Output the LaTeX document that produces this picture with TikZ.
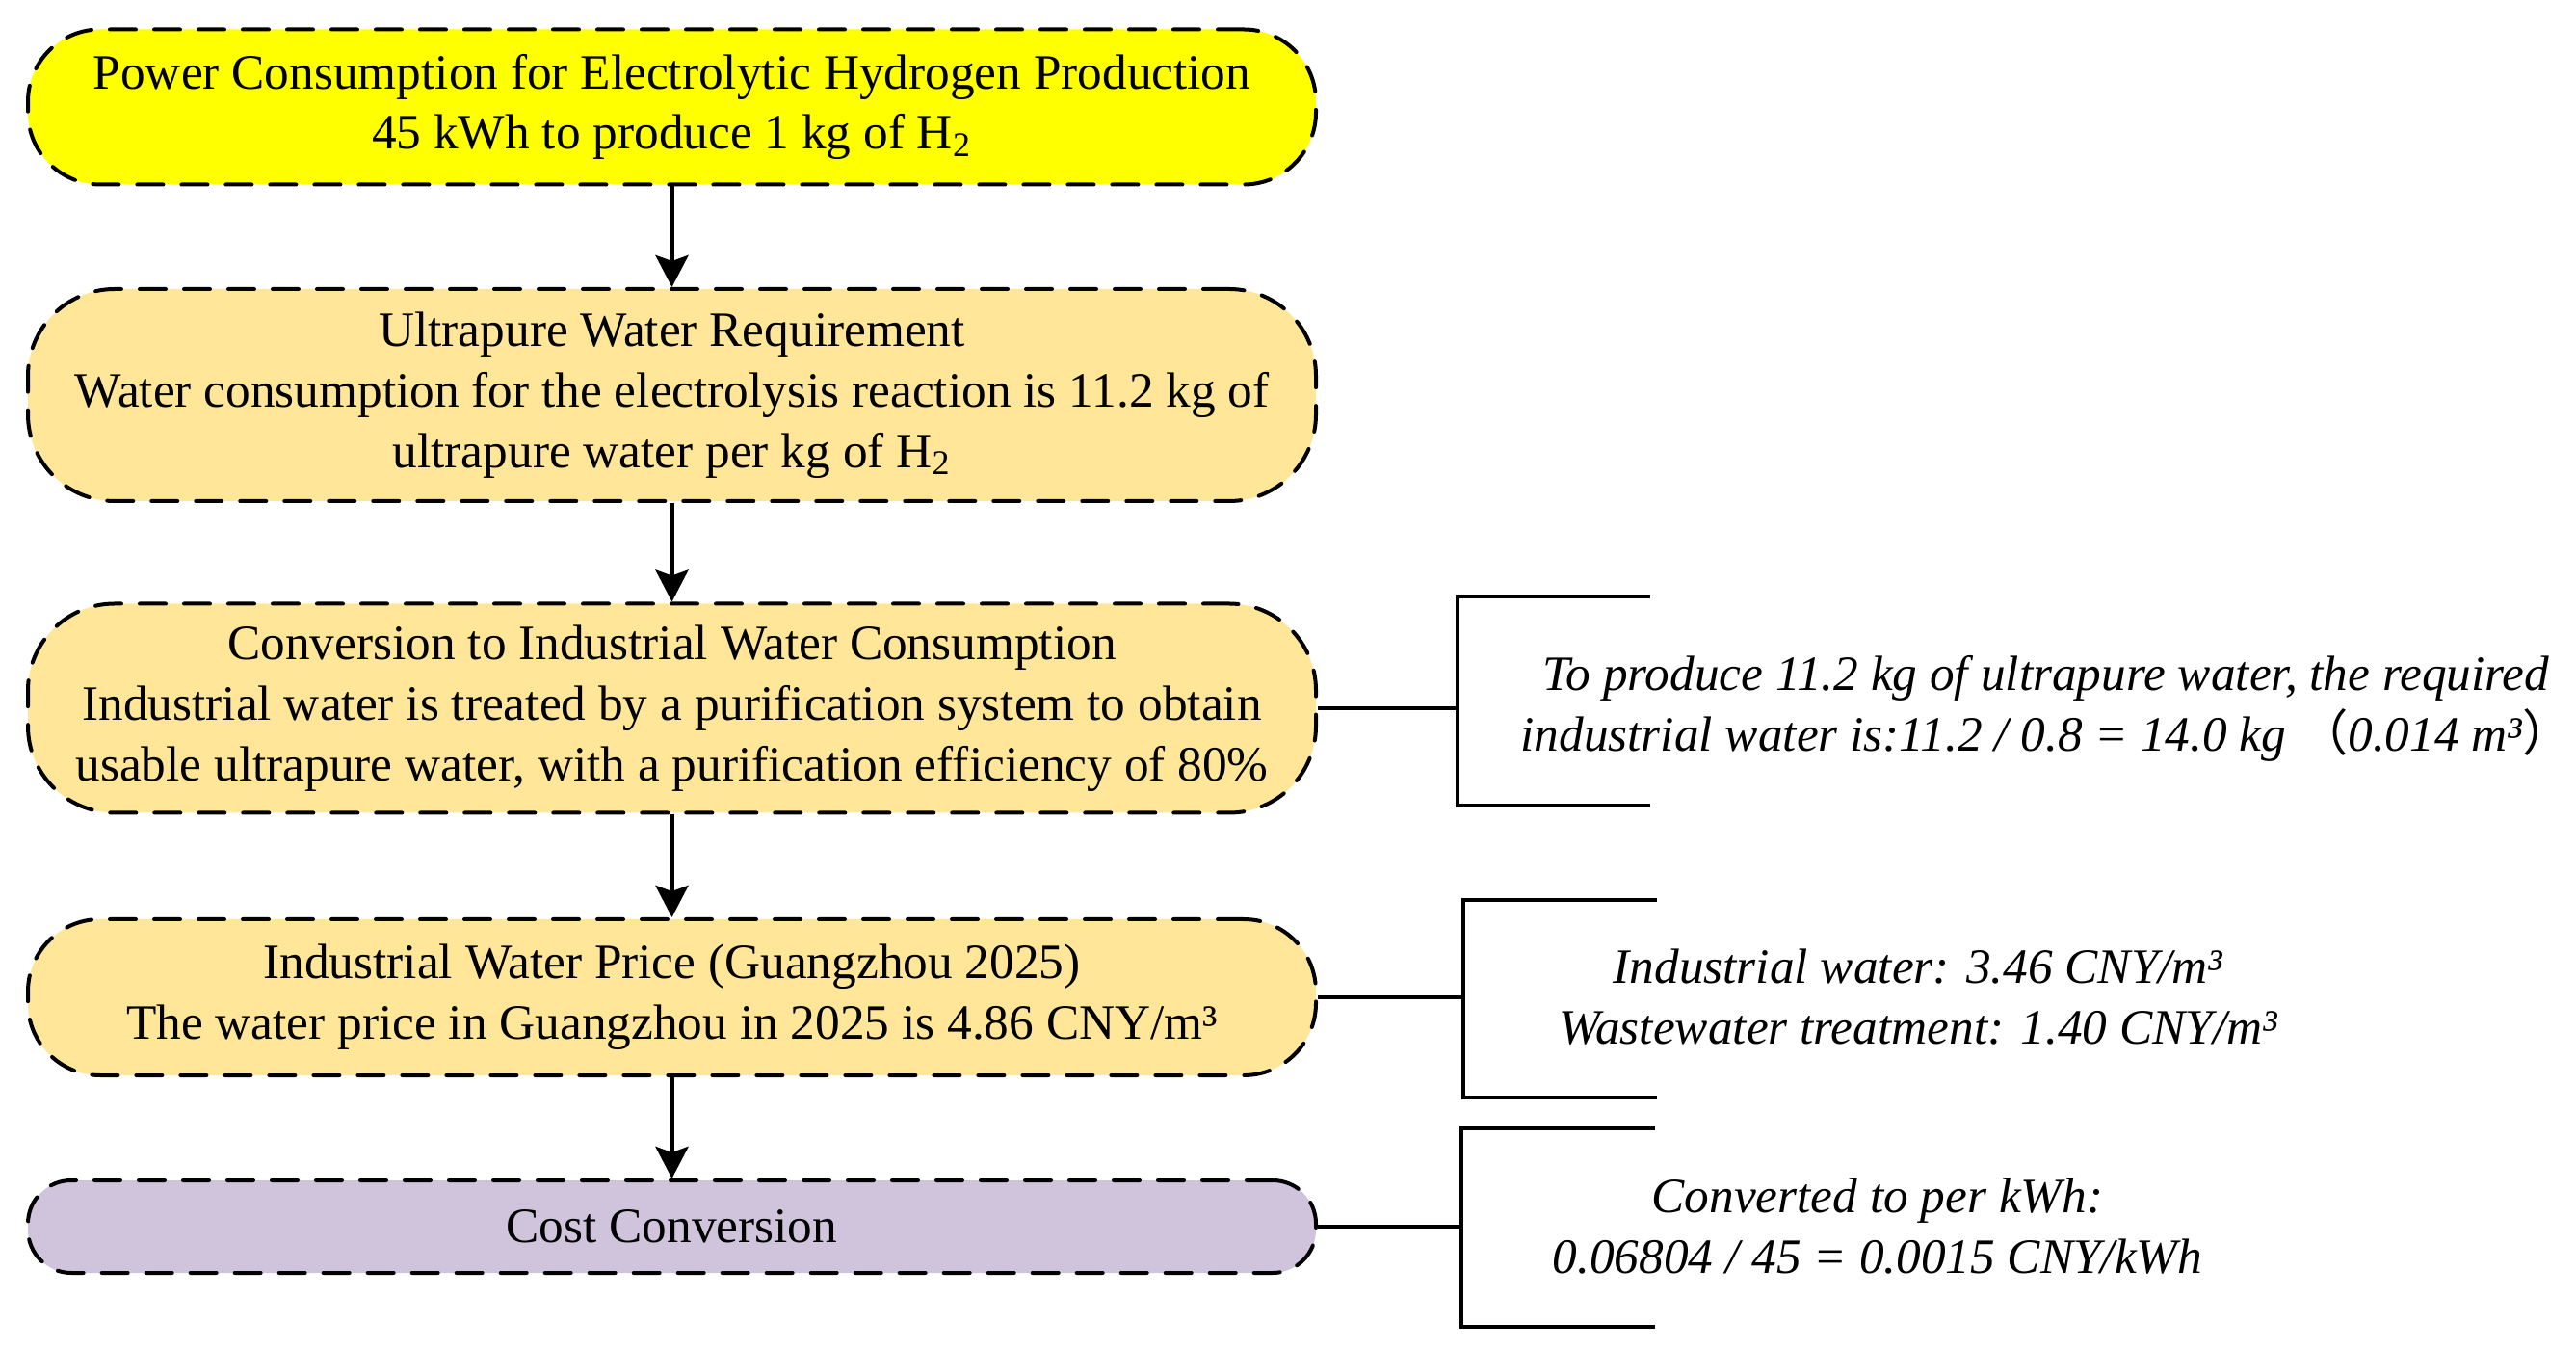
\documentclass[tikz,border=0pt]{standalone}
\usepackage{fontspec}
\setmainfont{Liberation Serif}
\newfontfamily\cjk{Noto Sans CJK SC}
\usetikzlibrary{arrows.meta}
\definecolor{cyel}{HTML}{FFFF00}
\definecolor{cora}{HTML}{FFE699}
\definecolor{clav}{HTML}{D0C4DC}
\begin{document}
\begin{tikzpicture}
\tikzstyle{bx} = [draw=black,line width=0.04cm,dash pattern=on 0.27cm off 0.19cm,line cap=round,rounded corners=0.75cm,minimum width=13.37cm,inner sep=0pt,align=center,font=\fontsize{14.6}{17.9}\selectfont] %box
\tikzstyle{nt} = [align=center,font=\fontsize{14.6}{17.9}\selectfont\itshape] %note
\tikzstyle{de} = [-{Stealth[length=0.33cm,width=0.34cm,inset=0.06cm]},line width=0.05cm] %directed edge
\tikzstyle{br} = [line width=0.045cm] %bracket
\useasboundingbox(0,0)rectangle(26.74,14);
\node[bx,fill=cyel,minimum height=1.61cm](ba)at(6.975,12.89){Power Consumption for Electrolytic Hydrogen Production\\45 kWh to produce 1 kg of H\textsubscript{2}};
\node[bx,fill=cora,minimum height=2.2cm,rounded corners=0.9cm](bb)at(6.975,9.90){Ultrapure Water Requirement\\Water consumption for the electrolysis reaction is 11.2 kg of\\ultrapure water per kg of H\textsubscript{2}};
\node[bx,fill=cora,minimum height=2.17cm,rounded corners=0.9cm](bc)at(6.975,6.65){Conversion to Industrial Water Consumption\\Industrial water is treated by a purification system to obtain\\usable ultrapure water, with a purification efficiency of 80\%};
\node[bx,fill=cora,minimum height=1.62cm](bd)at(6.975,3.65){Industrial Water Price (Guangzhou 2025)\\The water price in Guangzhou in 2025 is 4.86 CNY/m³};
\node[bx,fill=clav,minimum height=0.96cm,rounded corners=0.45cm](be)at(6.975,1.27){Cost Conversion};
\draw[de](ba)--(bb);
\draw[de](bb)--(bc);
\draw[de](bc)--(bd);
\draw[de](bd)--(be);
\coordinate(ka)at(15.13,6.65);
\coordinate(kb)at(15.19,3.65);
\coordinate(kc)at(15.17,1.27);
\draw[br](bc.east)--(ka);
\draw[br](bd.east)--(kb);
\draw[br](be.east)--(kc);
\draw[br](17.13,7.81)--(15.13,7.81)--(15.13,5.64)--(17.13,5.64);
\draw[br](17.20,4.66)--(15.19,4.66)--(15.19,2.61)--(17.20,2.61);
\draw[br](17.18,2.29)--(15.17,2.29)--(15.17,0.23)--(17.18,0.23);
\node[nt](na)at(21.24,6.65){To produce 11.2 kg of ultrapure water, the required\\industrial water is:11.2 / 0.8 = 14.0 kg {\cjk （}0.014 m³{\cjk ）}};
\node[nt](nb)at(19.91,3.65){Industrial water: 3.46 CNY/m³\\Wastewater treatment: 1.40 CNY/m³};
\node[nt](nc)at(19.49,1.27){Converted to per kWh:\\0.06804 / 45 = 0.0015 CNY/kWh};
\end{tikzpicture}
\end{document}
